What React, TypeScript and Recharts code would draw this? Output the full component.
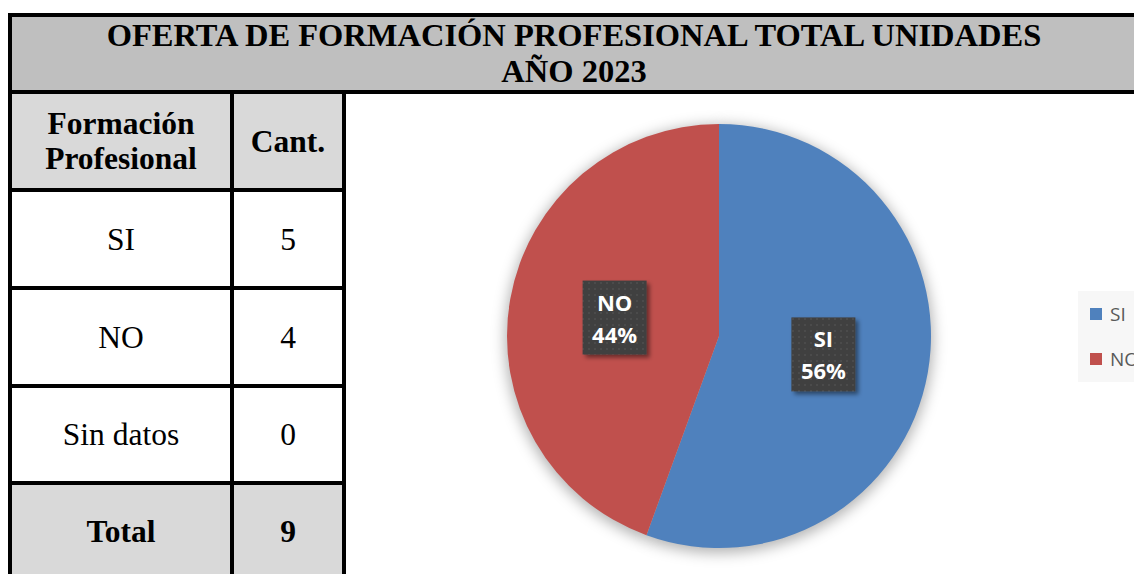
import React from "react";
import { PieChart, Pie, Cell, Legend } from "recharts";

const titleLines = ["OFERTA DE FORMACIÓN PROFESIONAL TOTAL UNIDADES", "AÑO 2023"];
const headerLabels = ["Formación\nProfesional", "Cant."];
const categories = ["SI", "NO", "Sin datos"];
const counts = [5, 4, 0];
const totalLabel = "Total";
const sliceColors = ["#4F81BD", "#C0504D", "#9BBB59"];

const pieData = categories
  .map((name, i) => ({ name, value: counts[i], color: sliceColors[i] }))
  .filter((d) => d.value > 0);
const total = counts.reduce((a, b) => a + b, 0);

const SERIF = "'Liberation Serif', 'Times New Roman', serif";
const SANS = "'Open Sans', 'Noto Sans', sans-serif";
const B = 4;

const Line = ({ x, y, w, h }: { x: number; y: number; w: number; h: number }) => (
  <div style={{ position: "absolute", left: x, top: y, width: w, height: h, background: "#000" }} />
);

const Cell2 = ({
  x, y, w, h, bg, bold, children,
}: { x: number; y: number; w: number; h: number; bg: string; bold?: boolean; children: React.ReactNode }) => (
  <div
    style={{
      position: "absolute", left: x, top: y, width: w, height: h, background: bg,
      display: "flex", alignItems: "center", justifyContent: "center", textAlign: "center",
      fontFamily: SERIF, fontSize: 31.5, lineHeight: "35px", fontWeight: bold ? 700 : 400,
      color: "#000", whiteSpace: "pre-line",
    }}
  >
    {children}
  </div>
);

const RAD = Math.PI / 180;
const renderLabel = (props: any) => {
  const { cx, cy, midAngle, outerRadius, percent, name } = props;
  const r = outerRadius * 0.5;
  const x = cx + r * Math.cos(-midAngle * RAD);
  const y = cy + r * Math.sin(-midAngle * RAD);
  const w = 64;
  const h = 74;
  return (
    <g>
      <rect x={x - w / 2} y={y - h / 2} width={w} height={h} fill="url(#dots)" filter="url(#lblShadow)" />
      <text x={x} y={y - 7} textAnchor="middle" fill="#fff" fontFamily={SANS} fontWeight={700} fontSize={22}>
        {name}
      </text>
      <text x={x} y={y + 25} textAnchor="middle" fill="#fff" fontFamily={SANS} fontWeight={700} fontSize={22}>
        {Math.round(percent * 100)}%
      </text>
    </g>
  );
};

const renderLegend = () => (
  <div style={{ background: "#f7f7f7", width: 80, height: 91, boxSizing: "border-box", overflow: "hidden" }}>
    {pieData.map((p) => (
      <div key={p.name} style={{ display: "flex", alignItems: "center", height: 45 }}>
        <div style={{ width: 12, height: 12, background: p.color, marginLeft: 12, marginRight: 8, flex: "none" }} />
        <span style={{ fontFamily: SANS, fontSize: 19, color: "#595959", lineHeight: "20px", whiteSpace: "nowrap" }}>
          {p.name}
        </span>
      </div>
    ))}
  </div>
);

export default function App() {
  const tL = 8;
  const c1 = 230;
  const c2 = 342;
  const rows = [90, 188, 286, 384, 481];
  const chartX = c2 + B;
  const chartY = rows[0] + B;
  return (
    <div style={{ position: "absolute", left: 0, top: 0, width: 1134, height: 574, overflow: "hidden", background: "#fff" }}>
      {/* Title */}
      <div
        style={{
          position: "absolute", left: tL, top: 13, width: 1132, height: 81, boxSizing: "border-box",
          border: `${B}px solid #000`, background: "#BFBFBF", textAlign: "center",
          fontFamily: SERIF, fontWeight: 700, fontSize: 32.5, lineHeight: "36px", paddingTop: 0,
        }}
      >
        {titleLines.map((t) => (
          <div key={t}>{t}</div>
        ))}
      </div>

      {/* Table cells */}
      <Cell2 x={tL + B} y={rows[0] + B} w={c1 - tL - B} h={rows[1] - rows[0] - B} bg="#D9D9D9" bold>
        {headerLabels[0]}
      </Cell2>
      <Cell2 x={c1 + B} y={rows[0] + B} w={c2 - c1 - B} h={rows[1] - rows[0] - B} bg="#D9D9D9" bold>
        {headerLabels[1]}
      </Cell2>
      {categories.map((c, i) => (
        <React.Fragment key={c}>
          <Cell2 x={tL + B} y={rows[i + 1] + B} w={c1 - tL - B} h={rows[i + 2] - rows[i + 1] - B} bg="#fff">
            {c}
          </Cell2>
          <Cell2 x={c1 + B} y={rows[i + 1] + B} w={c2 - c1 - B} h={rows[i + 2] - rows[i + 1] - B} bg="#fff">
            {counts[i]}
          </Cell2>
        </React.Fragment>
      ))}
      <Cell2 x={tL + B} y={rows[4] + B} w={c1 - tL - B} h={92} bg="#D9D9D9" bold>
        {totalLabel}
      </Cell2>
      <Cell2 x={c1 + B} y={rows[4] + B} w={c2 - c1 - B} h={92} bg="#D9D9D9" bold>
        {total}
      </Cell2>

      {/* Table lines */}
      <Line x={tL} y={rows[0]} w={B} h={600} />
      <Line x={c1} y={rows[0]} w={B} h={600} />
      <Line x={c2} y={rows[0]} w={B} h={600} />
      {rows.slice(1).map((r) => (
        <Line key={r} x={tL} y={r} w={c2 - tL + B} h={B} />
      ))}

      {/* Pie chart */}
      <div style={{ position: "absolute", left: chartX, top: chartY }}>
        <PieChart width={1134 - chartX} height={574 - chartY} margin={{ top: 0, right: 0, bottom: 0, left: 0 }}>
          <defs>
            <pattern id="dots" width="6" height="6" patternUnits="userSpaceOnUse">
              <rect width="6" height="6" fill="#404040" />
              <circle cx="3" cy="3" r="1" fill="#4e4e4e" />
            </pattern>
            <filter id="lblShadow" x="-30%" y="-30%" width="160%" height="160%">
              <feDropShadow dx="3" dy="3" stdDeviation="2" floodColor="#000" floodOpacity="0.45" />
            </filter>
            <filter id="pieBlur" x="-20%" y="-20%" width="140%" height="140%">
              <feGaussianBlur stdDeviation="7" />
              <feOffset dx="0" dy="3" />
            </filter>
          </defs>
          <Pie
            data={pieData}
            dataKey="value"
            nameKey="name"
            cx={719 - chartX}
            cy={336 - chartY}
            outerRadius={214}
            startAngle={90}
            endAngle={-270}
            isAnimationActive={false}
            legendType="none"
            label={false}
            stroke="none"
          >
            {pieData.map((d) => (
              <Cell key={d.name} fill="#000" fillOpacity={0.3} filter="url(#pieBlur)" />
            ))}
          </Pie>
          <Pie
            data={pieData}
            dataKey="value"
            nameKey="name"
            cx={719 - chartX}
            cy={336 - chartY}
            outerRadius={212}
            startAngle={90}
            endAngle={-270}
            isAnimationActive={false}
            labelLine={false}
            label={renderLabel}
            stroke="none"
          >
            {pieData.map((d) => (
              <Cell key={d.name} fill={d.color} />
            ))}
          </Pie>
          <Legend
            content={renderLegend}
            layout="vertical"
            wrapperStyle={{ position: "absolute", left: 1078 - chartX, top: 291 - chartY, width: 80, height: 91 }}
          />
        </PieChart>
      </div>
    </div>
  );
}
